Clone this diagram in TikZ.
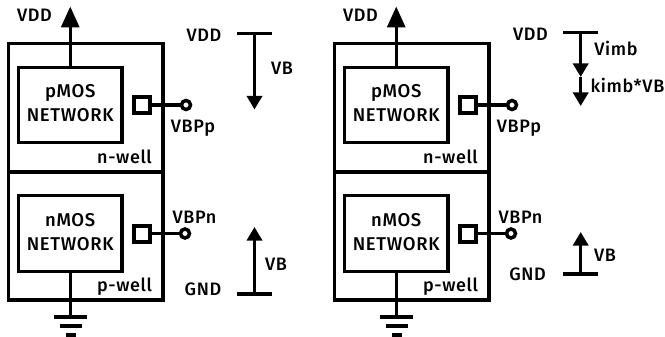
\documentclass[tikz,border=0pt]{standalone}
\usepackage{fontspec}
\setmainfont{Fira Sans}[UprightFont=* Medium,LetterSpace=3.5]
\usetikzlibrary{arrows.meta}
\tikzset{
  wire/.style={line width=3.3pt},
  tipwire/.style={wire,-{Triangle[length=13.5pt,width=15pt]}},
  bigtip/.style={wire,-{Triangle[length=21pt,width=18pt]}},
  netbox/.style={draw,line width=3.3pt,outer sep=0pt,minimum width=103.5pt,minimum height=75.5pt,inner sep=0pt},
  nettext/.style={inner sep=0pt,align=center,font=\fontsize{18.5}{24}\selectfont},
  pad/.style={draw,line width=4pt,outer sep=0pt,minimum size=16pt,inner sep=0pt},
  term/.style={circle,draw,line width=3.5pt,outer sep=0pt,fill=white,minimum size=9pt,inner sep=0pt},
  lbl/.style={inner sep=0pt,font=\fontsize{18}{20}\selectfont},
  well/.style={draw,line width=3.3pt,outer sep=0pt,inner sep=0pt,minimum width=154.5pt},
}
\newcommand{\cmospanel}{%
  \node[well,minimum height=128.5pt,anchor=north west] (top) at (8.5,43.5) {};
  \node[well,minimum height=128pt,anchor=north west] (bot) at (8.5,172) {};
  \node[netbox] (pnet) at (70.25,105) {};
  \node[netbox] (nnet) at (70.25,233.5) {};
  \node[nettext] (ptext) at (70.25,103) {pMOS\\NETWORK};
  \node[nettext] (ntext) at (70.25,232) {nMOS\\NETWORK};
  \coordinate (vddtip) at (70.25,6.5);
  \draw[bigtip] (pnet.north) -- (vddtip);
  \node[lbl] (vddl) at (34.5,15) {VDD};
  \node[pad] (ppad) at (142,105) {};
  \node[term] (pterm) at (186,105) {};
  \draw[wire] (ppad) -- (pterm);
  \node[lbl] (vbpp) at (193,128) {VBPp};
  \node[pad] (npad) at (142,233.5) {};
  \node[term] (nterm) at (185,233.5) {};
  \draw[wire] (npad) -- (nterm);
  \node[lbl] (vbpn) at (194.5,217) {VBPn};
  \node[lbl] (nw) at (124.5,157) {n-well};
  \node[lbl] (pw) at (124.5,287) {p-well};
  \coordinate (g0) at (70.25,317);
  \draw[wire] (nnet.south) -- (g0);
  \coordinate (g1a) at (54,317); \coordinate (g1b) at (87,317);
  \coordinate (g2a) at (60,326); \coordinate (g2b) at (82,326);
  \coordinate (g3a) at (66,335); \coordinate (g3b) at (76,335);
  \draw[wire] (g1a) -- (g1b);
  \draw[wire] (g2a) -- (g2b);
  \draw[wire] (g3a) -- (g3b);
}
\begin{document}
\begin{tikzpicture}[x=1pt,y=-1pt]
\useasboundingbox (0,0) rectangle (665,337);
\begin{scope}[name prefix=L-]
  \cmospanel
  \coordinate (ta) at (237,33.5); \coordinate (tb) at (272,33.5); \coordinate (tm) at (254.5,33.5);
  \coordinate (tt) at (254.5,109.5);
  \draw[wire] (ta) -- (tb);
  \draw[tipwire] (tm) -- (tt);
  \node[lbl] (a) at (204,35) {VDD};
  \node[lbl] (b) at (282,68) {VB};
  \coordinate (ba) at (237,294); \coordinate (bb) at (272,294); \coordinate (bm) at (254.5,294);
  \coordinate (bt) at (254.5,227);
  \draw[wire] (ba) -- (bb);
  \draw[tipwire] (bm) -- (bt);
  \node[lbl] (c) at (203,289) {GND};
  \node[lbl] (d) at (276,264) {VB};
\end{scope}
\begin{scope}[xshift=326pt,name prefix=R-]
  \cmospanel
\end{scope}
\begin{scope}[name prefix=S-]
  \coordinate (ta) at (563,32.5); \coordinate (tb) at (598,32.5); \coordinate (tm) at (580.7,32.5);
  \coordinate (t1) at (580.7,77); \coordinate (t2) at (580.7,106);
  \draw[wire] (ta) -- (tb);
  \draw[tipwire] (tm) -- (t1);
  \draw[tipwire] (t1) -- (t2);
  \node[lbl] (a) at (530.5,34) {VDD};
  \node[lbl] (b) at (616,48) {Vimb};
  \node[lbl,anchor=east] (e) at (664.5,85) {kimb*VB};
  \coordinate (ba) at (563,274); \coordinate (bb) at (598,274); \coordinate (bm) at (580.7,274);
  \coordinate (bt) at (580.7,232);
  \draw[wire] (ba) -- (bb);
  \draw[tipwire] (bm) -- (bt);
  \node[lbl] (c) at (527.5,274) {GND};
  \node[lbl] (d) at (605,255) {VB};
\end{scope}
\end{tikzpicture}
\end{document}
